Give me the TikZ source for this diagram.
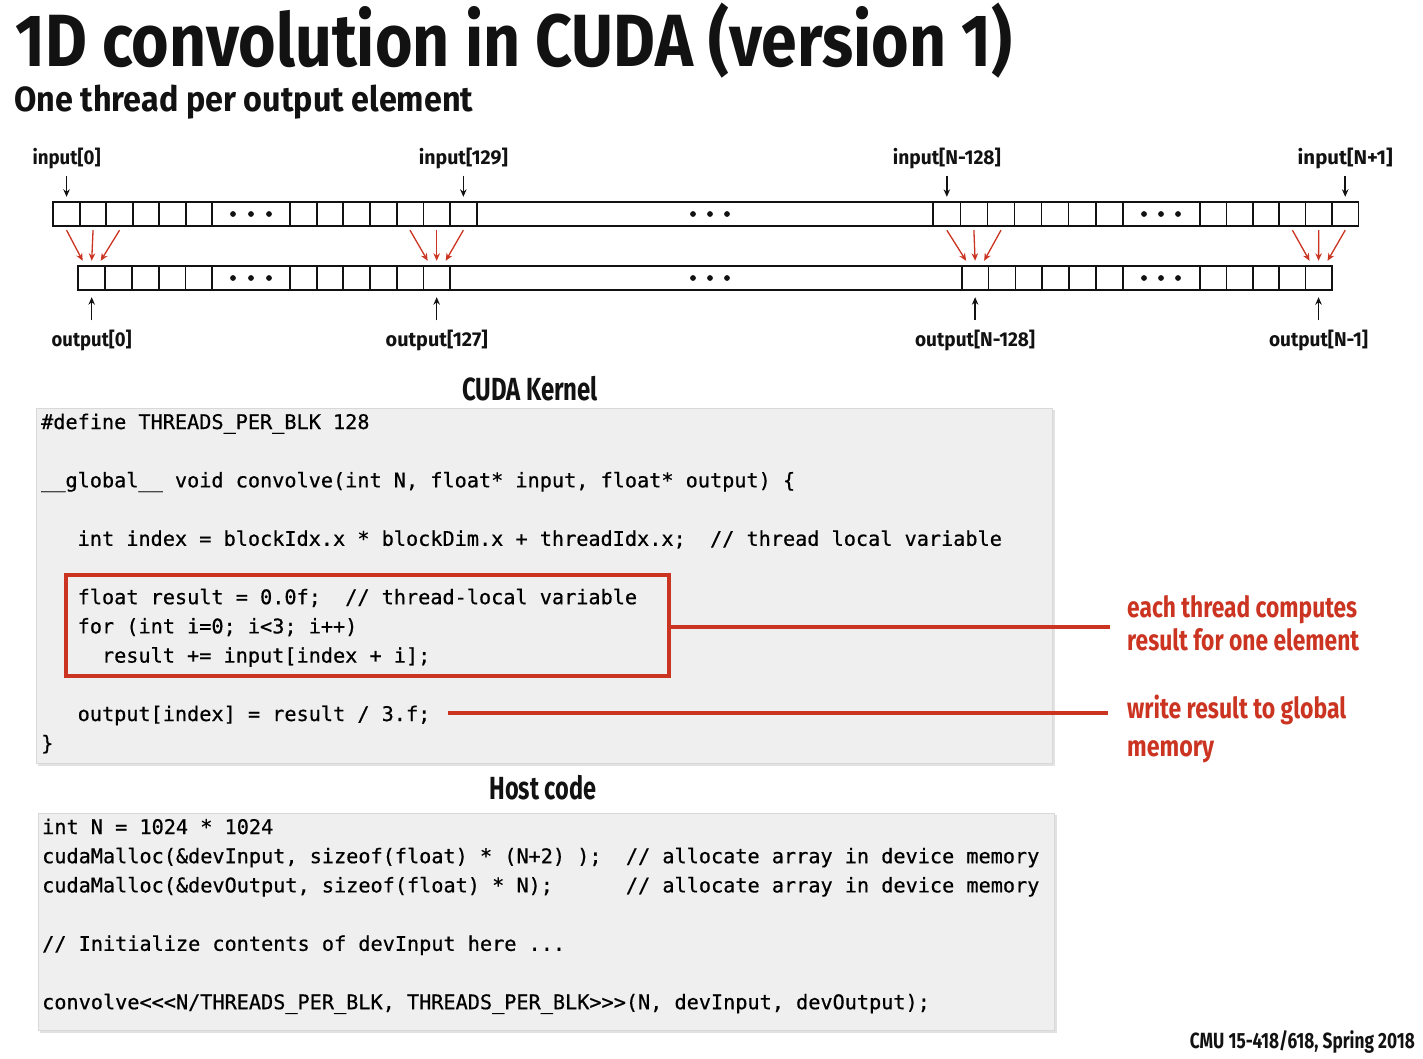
\documentclass[tikz,border=0pt]{standalone}
\usepackage{fontspec}
\usepackage{graphicx}
\setmainfont{Fira Sans}
\newfontfamily\headfont{Fira Sans}
\newfontfamily\codefont{DejaVu Sans Mono}[FakeBold=0.6]
\usetikzlibrary{arrows.meta}

% scale text horizontally to a given width, keeping its height
\newcommand{\fitw}[2]{\resizebox{#1}{\height}{#2}}

\definecolor{ink}{RGB}{18,18,18}
\definecolor{slidered}{RGB}{204,52,34}
\definecolor{codebg}{RGB}{239,239,239}
\definecolor{codeedge}{RGB}{216,216,216}
\definecolor{codeshadow}{RGB}{226,226,226}

\begin{document}
\begin{tikzpicture}[x=1pt,y=-1pt,
  cell/.style={draw=ink, line width=1.7pt, minimum height=24.4pt, inner sep=0pt, outer sep=0pt, anchor=west},
  lbl/.style={inner sep=0pt, anchor=base, text=ink, font=\headfont\bfseries\fontsize{20}{22}\selectfont},
  heading/.style={inner sep=0pt, text=ink, font=\headfont\bfseries},
  note/.style={inner sep=0pt, anchor=base west, text=slidered, font=\headfont\bfseries\fontsize{29}{32}\selectfont},
  codeline/.style={inner sep=0pt, anchor=base west, text=black, font=\codefont\fontsize{20.2}{24}\selectfont},
  codebox/.style={fill=codebg, draw=codeedge, line width=0.8pt, inner sep=0pt, outer sep=0pt, anchor=north west},
  blackarrow/.style={draw=ink, line width=1.5pt, -{Stealth[length=7.5pt,width=6.5pt]}},
  redarrow/.style={draw=slidered, line width=1.3pt, -{Stealth[length=7.5pt,width=6.5pt]}},
  redline/.style={draw=slidered, line width=4pt}
]
\fill[white] (0,0) rectangle (1423,1059);
\useasboundingbox (0,0) rectangle (1423,1059);

% ---------- titles ----------
\node[heading, anchor=base west, font=\headfont\bfseries\fontsize{74}{78}\selectfont] (title) at (15,67)
  {\fitw{997pt}{1D convolution in CUDA (version 1)}};
\node[heading, anchor=base west, font=\headfont\bfseries\fontsize{35}{40}\selectfont] (subtitle) at (14,112)
  {\fitw{459pt}{One thread per output element}};

% ---------- input array ----------
\foreach \i in {0,...,5} \node[cell, minimum width=26.5pt] (inA\i) at (53.3+26.5*\i,214) {};
\node[cell, minimum width=77.7pt] (inD1) at (212.3,214) {};
\foreach \i in {0,...,6} \node[cell, minimum width=26.67pt] (inB\i) at (290+26.67*\i,214) {};
\node[cell, minimum width=456.6pt] (inL) at (476.67,214) {};
\foreach \i in {0,...,6} \node[cell, minimum width=27.06pt] (inC\i) at (933.3+27.06*\i,214) {};
\node[cell, minimum width=77.3pt] (inD2) at (1122.7,214) {};
\foreach \i in {0,...,5} \node[cell, minimum width=26.4pt] (inE\i) at (1200+26.4*\i,214) {};

% ---------- output array ----------
\foreach \i in {0,...,4} \node[cell, minimum width=26.8pt] (outA\i) at (78.3+26.8*\i,278) {};
\node[cell, minimum width=77.7pt] (outD1) at (212.3,278) {};
\foreach \i in {0,...,5} \node[cell, minimum width=26.67pt] (outB\i) at (290+26.67*\i,278) {};
\node[cell, minimum width=511.7pt] (outL) at (450,278) {};
\foreach \i in {0,...,5} \node[cell, minimum width=26.83pt] (outC\i) at (961.7+26.83*\i,278) {};
\node[cell, minimum width=77.3pt] (outD2) at (1122.7,278) {};
\foreach \i in {0,...,4} \node[cell, minimum width=26.34pt] (outE\i) at (1200+26.34*\i,278) {};

% ellipsis dots
\foreach \y in {214,278}
  \foreach \x in {233,251,269, 693,710,727, 1144,1161,1178}
    \fill[ink] (\x,\y) circle (2.9pt);

% ---------- stencil arrows (three inputs -> one output) ----------
\foreach \a/\b/\c/\t in {inA0/inA1/inA2/outA0, inB4/inB5/inB6/outB5, inC0/inC1/inC2/outC0, inE3/inE4/inE5/outE4} {
  \draw[redarrow] ([yshift=-4pt]\a.south) -- ([xshift=-9pt,yshift=5pt]\t.north);
  \draw[redarrow] ([yshift=-4pt]\b.south) -- ([yshift=5pt]\t.north);
  \draw[redarrow] ([yshift=-4pt]\c.south) -- ([xshift=9pt,yshift=5pt]\t.north);
}

% ---------- element labels ----------
\node[lbl] (lin0)   at (inA0 |- 0,165) {\fitw{68pt}{input[0]}};
\node[lbl] (lin129) at (inB6 |- 0,165) {\fitw{89pt}{input[129]}};
\node[lbl] (linN)   at (inC0 |- 0,165) {\fitw{108pt}{input[N-128]}};
\node[lbl] (linE)   at (inE5 |- 0,165) {\fitw{95pt}{input[N+1]}};
\foreach \l/\c in {lin0/inA0, lin129/inB6, linN/inC0, linE/inE5}
  \draw[blackarrow] ([yshift=-6pt]\l.south) -- ([yshift=5pt]\c.north);

\node[lbl] (lout0)   at (outA0 |- 0,346) {\fitw{80pt}{output[0]}};
\node[lbl] (lout127) at (outB5 |- 0,346) {\fitw{102pt}{output[127]}};
\node[lbl] (loutN)   at (outC0 |- 0,346) {\fitw{120pt}{output[N-128]}};
\node[lbl] (loutE)   at (outE4 |- 0,346) {\fitw{99pt}{output[N-1]}};
\foreach \l/\c in {lout0/outA0, lout127/outB5, loutN/outC0, loutE/outE4}
  \draw[blackarrow] ([yshift=9pt]\l.north) -- ([yshift=-7pt]\c.south);

% ---------- kernel code ----------
\node[heading, anchor=base, font=\headfont\bfseries\fontsize{32}{36}\selectfont] (khead) at (530,400)
  {\fitw{136pt}{CUDA Kernel}};
\fill[codeshadow] (38,410) rectangle (1055,766);
\node[codebox, minimum width=1016pt, minimum height=355pt] (kernel) at (36,408) {};

\node[codeline] (k1) at (41,429)   {\#define THREADS\_PER\_BLK 128};
\node[codeline] (k2) at (41,487.4) {\_\_global\_\_ void convolve(int N, float* input, float* output) \{};
\node[codeline] (k3) at (77.5,545.8) {int index = blockIdx.x * blockDim.x + threadIdx.x;~~// thread local variable};
\node[codeline] (k4) at (77.5,604.2) {float result = 0.0f;~~// thread-local variable};
\node[codeline] (k5) at (77.5,633.4) {for (int i=0; i<3; i++)};
\node[codeline] (k6) at (101.8,662.6) {result += input[index + i];};
\node[codeline] (k7) at (77.5,721)  {output[index] = result / 3.f;};
\node[codeline] (k8) at (41,750.2) {\}};

\node[draw=slidered, line width=4.5pt, inner sep=0pt, outer sep=0pt, minimum width=603pt, minimum height=101pt, anchor=north west] (redbox) at (66,575) {};

% ---------- annotations ----------
\node[note] (nA1) at (1127,617) {\fitw{230pt}{each thread computes}};
\node[note] (nA2) at (1127,650) {\fitw{232pt}{result for one element}};
\node[note] (nB1) at (1127,718) {\fitw{219pt}{write result to global}};
\node[note] (nB2) at (1127,756) {\fitw{87pt}{memory}};

\draw[redline, shorten >=17pt] ([yshift=-1.5pt]redbox.east) -- ([yshift=-1.5pt]redbox.east -| nA1.west);
\coordinate (wstart) at ([xshift=17pt,yshift=2.5pt]k7.east);
\draw[redline, shorten >=19pt] (wstart) -- (wstart -| nB1.west);

% ---------- host code ----------
\node[heading, anchor=base, font=\headfont\bfseries\fontsize{32}{36}\selectfont] (hhead) at (543,799)
  {\fitw{107pt}{Host code}};
\fill[codeshadow] (40,815) rectangle (1057,1033);
\node[codebox, minimum width=1016pt, minimum height=217pt] (host) at (38,813) {};

\node[codeline] (h1) at (42,834)    {int N = 1024 * 1024};
\node[codeline] (h2) at (42,863.2)  {cudaMalloc(\&devInput, sizeof(float) * (N+2) );~~// allocate array in device memory};
\node[codeline] (h3) at (42,892.4)  {cudaMalloc(\&devOutput, sizeof(float) * N);~~~~~~// allocate array in device memory};
\node[codeline] (h4) at (42,950.8)  {// Initialize contents of devInput here ...};
\node[codeline] (h5) at (42,1009.2) {convolve<{}<{}<N/THREADS\_PER\_BLK, THREADS\_PER\_BLK>{}>{}>(N, devInput, devOutput);};

% ---------- footer ----------
\node[heading, anchor=base east, font=\headfont\bfseries\fontsize{22}{24}\selectfont] (footer) at (1415,1048)
  {\fitw{225pt}{CMU 15-418/618, Spring 2018}};
\end{tikzpicture}
\end{document}
